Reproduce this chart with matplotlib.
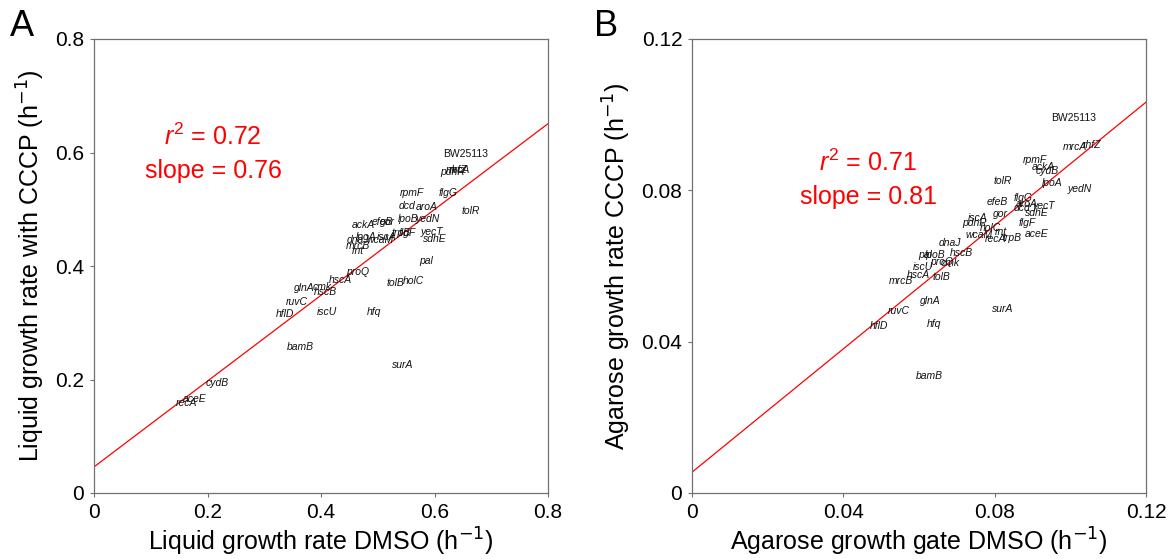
import matplotlib
matplotlib.use("Agg")
import matplotlib.pyplot as plt

plt.rcParams['font.family'] = ['Liberation Sans', 'DejaVu Sans']
plt.rcParams['mathtext.fontset'] = 'custom'
plt.rcParams['mathtext.rm'] = 'Liberation Sans'
plt.rcParams['mathtext.it'] = 'Liberation Sans:italic'

# Panel A: liquid growth rates (h-1), label anchor = left edge of the gene name
genes_a = ["BW25113", "pdhR", "mrcA", "rhfZ", "rpmF", "flgG", "dcd", "aroA", "tolR",
           "lpoB", "yedN", "ackA", "efeB", "gor", "lpoA", "iscA", "wcaM", "trpB",
           "flgF", "yecT", "sdhE", "dnaJ", "mrcB", "rnt", "pal", "proQ", "hscA",
           "tolB", "holC", "glnA", "cmk", "hscB", "ruvC", "hflD", "iscU", "hfq",
           "bamB", "surA", "cydB", "aceE", "recA"]
dmso_a = [0.615, 0.611, 0.620, 0.626, 0.539, 0.608, 0.537, 0.567, 0.648,
          0.536, 0.567, 0.455, 0.490, 0.504, 0.462, 0.499, 0.481, 0.525,
          0.537, 0.576, 0.580, 0.446, 0.444, 0.455, 0.573, 0.444, 0.414,
          0.516, 0.544, 0.352, 0.386, 0.388, 0.338, 0.321, 0.393, 0.481,
          0.340, 0.525, 0.196, 0.157, 0.144]
cccp_a = [0.597, 0.566, 0.569, 0.569, 0.529, 0.529, 0.506, 0.504, 0.497,
          0.483, 0.483, 0.472, 0.478, 0.478, 0.451, 0.451, 0.445, 0.458,
          0.458, 0.460, 0.448, 0.446, 0.436, 0.427, 0.409, 0.389, 0.375,
          0.370, 0.374, 0.361, 0.363, 0.354, 0.337, 0.315, 0.319, 0.319,
          0.257, 0.226, 0.194, 0.166, 0.159]
fit_a = (0.756, 0.046)   # slope, intercept

# Panel B: agarose growth rates (h-1)
genes_b = ["BW25113", "mrcA", "rhfZ", "rpmF", "ackA", "cydB", "tolR", "lpoA", "yedN",
           "efeB", "flgG", "aroA", "dcd", "yecT", "sdhE", "gor", "iscA", "pdhR",
           "flgF", "holC", "rnt", "wcaM", "recA", "trpB", "aceE", "dnaJ", "hscB",
           "pal", "lpoB", "proQ", "cmk", "iscU", "hscA", "tolB", "mrcB", "glnA",
           "ruvC", "hflD", "hfq", "bamB", "surA"]
dmso_b = [0.0949, 0.0981, 0.1034, 0.0875, 0.0899, 0.0909, 0.0796, 0.0925, 0.0994,
          0.0780, 0.0849, 0.0856, 0.0851, 0.0899, 0.0880, 0.0796, 0.0730, 0.0714,
          0.0864, 0.0761, 0.0801, 0.0722, 0.0775, 0.0822, 0.0880, 0.0653, 0.0682,
          0.0597, 0.0616, 0.0629, 0.0656, 0.0584, 0.0568, 0.0637, 0.0521, 0.0603,
          0.0518, 0.0471, 0.0621, 0.0592, 0.0793]
cccp_b = [0.0991, 0.0915, 0.0920, 0.0880, 0.0862, 0.0851, 0.0825, 0.0819, 0.0804,
          0.0769, 0.0780, 0.0764, 0.0753, 0.0759, 0.0740, 0.0738, 0.0727, 0.0714,
          0.0714, 0.0700, 0.0690, 0.0682, 0.0671, 0.0674, 0.0685, 0.0661, 0.0634,
          0.0629, 0.0629, 0.0611, 0.0608, 0.0597, 0.0576, 0.0571, 0.0560, 0.0508,
          0.0481, 0.0441, 0.0447, 0.0309, 0.0486]
fit_b = (0.815, 0.0055)

ticks_a = [0, 0.2, 0.4, 0.6, 0.8]
ticklabels_a = ["0", "0.2", "0.4", "0.6", "0.8"]
ticks_b = [0, 0.04, 0.08, 0.12]
ticklabels_b = ["0", "0.04", "0.08", "0.12"]

fig = plt.figure(figsize=(11.68, 5.59), dpi=100)
ax_a = fig.add_axes([94 / 1168, 66 / 559, 454 / 1168, 454 / 559])
ax_b = fig.add_axes([692 / 1168, 66 / 559, 454 / 1168, 454 / 559])


def panel(ax, genes, xs, ys, fit, lim, ticks, ticklabels, xlabel, ylabel,
          r2, slope_txt, txt_pos):
    ax.set_xlim(0, lim)
    ax.set_ylim(0, lim)
    for g, x, y in zip(genes, xs, ys):
        style = 'normal' if g == "BW25113" else 'italic'
        ax.text(x, y, g, fontsize=7.5, style=style, ha='left', va='center',
                color='#111111')
    k, b = fit
    ax.plot([0, lim], [b, b + k * lim], color='red', lw=0.9)
    ax.set_xticks(ticks)
    ax.set_xticklabels(ticklabels)
    ax.set_yticks(ticks)
    ax.set_yticklabels(ticklabels)
    ax.tick_params(direction='out', length=3, width=0.8, color='#707070',
                   labelsize=15, pad=4)
    for s in ax.spines.values():
        s.set_color('#707070')
        s.set_linewidth(0.9)
    ax.set_xlabel(xlabel + " (h$^{\\mathsf{-1}}$)", fontsize=18, labelpad=3)
    ax.set_ylabel(ylabel + " (h$^{\\mathsf{-1}}$)", fontsize=18, labelpad=6)
    tx, ty = txt_pos
    ax.text(tx, ty, "$r^2$ = " + r2, transform=ax.transAxes, color='red',
            fontsize=18, ha='center', va='center')
    ax.text(tx, ty - 0.075, "slope = " + slope_txt, transform=ax.transAxes,
            color='red', fontsize=18, ha='center', va='center')


panel(ax_a, genes_a, dmso_a, cccp_a, fit_a, 0.8, ticks_a, ticklabels_a,
      "Liquid growth rate DMSO", "Liquid growth rate with CCCP",
      "0.72", "0.76", (0.262, 0.785))
panel(ax_b, genes_b, dmso_b, cccp_b, fit_b, 0.12, ticks_b, ticklabels_b,
      "Agarose growth gate DMSO", "Agarose growth rate CCCP",
      "0.71", "0.81", (0.388, 0.727))

fig.text(10 / 1168, 1 - 26 / 559, "A", fontsize=26, ha='left', va='center')
fig.text(594 / 1168, 1 - 26 / 559, "B", fontsize=26, ha='left', va='center')

fig.savefig("out.png", dpi=100)
